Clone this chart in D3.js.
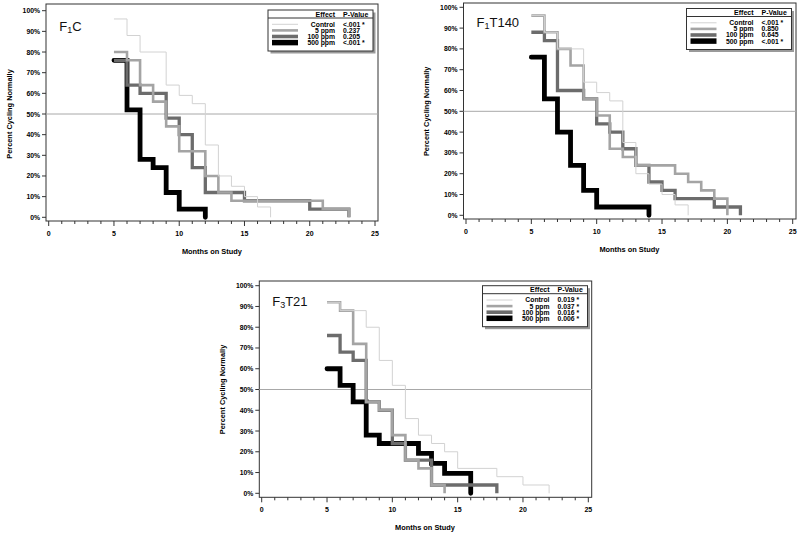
<!DOCTYPE html>
<html><head><meta charset="utf-8">
<script src="https://cdn.jsdelivr.net/npm/d3@7"></script>
<style>body{margin:0;background:#fff}svg{display:block}text{font-family:"Liberation Sans",Arial,sans-serif}</style>
</head><body><svg id="c" width="800" height="534"></svg>
<script>
// ---------- data ----------
const groups = ["Control","5 ppm","100 ppm","500 ppm"];
const xTicks = [0,5,10,15,20,25];
const yTicks = [0,10,20,30,40,50,60,70,80,90,100];

// F1C
const f1c_control_t = [5,6,7,9,10,11,12,13,14,15,16,17];
const f1c_control_s = [96,88,80,64,59,55,35,20,15,10,5,0];
const f1c_5_t = [5,6,7,8,9,10,12,13,14,21,23];
const f1c_5_s = [80,76,64,56,44,32,20,12,8,4,0];
const f1c_100_t = [5,6,7,9,10,11,12,15,20,23];
const f1c_100_s = [76,64,60,48,40,24,12,8,4,0];
const f1c_500_t = [5,6,7,8,9,10,12];
const f1c_500_s = [76,52,28,24,12,4,0];
const f1c_p = ["<.001 *","0.237","0.205","<.001 *"];

// F1T140
const f1t_control_t = [5,6,7,9,10,11,12,13,14,15,16,17];
const f1t_control_s = [96,88,80,64,59,55,35,20,15,10,5,0];
const f1t_5_t = [5,6,7,8,9,10,11,12,13,16,17,18,19,20];
const f1t_5_s = [96,88,80,72,56,48,32,28,24,20,16,12,8,0];
const f1t_100_t = [5,6,7,9,10,11,12,13,14,15,16,19,21];
const f1t_100_s = [88,84,60,56,44,40,32,24,16,12,8,4,0];
const f1t_500_t = [5,6,7,8,9,10,14];
const f1t_500_s = [76,56,40,24,12,4,0];
const f1t_p = ["<.001 *","0.850","0.645","<.001 *"];

// F3T21
const f3t_control_t = [5,6,8,9,10,11,12,13,14,15,18,20,22];
const f3t_control_s = [92,88,80,64,52,36,28,24,20,12,8,4,0];
const f3t_5_t = [5,6,7,8,9,10,11,12,13,14];
const f3t_5_s = [92,88,72,44,40,28,16,12,4,0];
const f3t_100_t = [5,6,7,8,9,10,11,13,18];
const f3t_100_s = [76,68,64,44,40,24,16,4,0];
const f3t_500_t = [5,6,7,8,9,12,13,14,16];
const f3t_500_s = [60,52,44,28,24,19.2,14.4,9.6,0];
const f3t_p = ["0.019 *","0.037 *","0.016 *","0.006 *"];

// ---------- styles ----------
const colors = ["#d2d2d2","#a4a4a4","#6c6c6c","#000000"];
const widths = [1,2.6,3.3,4.8];
const legWidths = [1,2.6,3.6,5.5];

const panels = [
  {title:["F","1","C"], frame:[46,4,378,221], xr:[48.7,375], yr:[217.3,10.7], leg:[268,10],
   t:[f1c_control_t,f1c_5_t,f1c_100_t,f1c_500_t], s:[f1c_control_s,f1c_5_s,f1c_100_s,f1c_500_s], p:f1c_p},
  {title:["F","1","T140"], frame:[463.5,3,796,219], xr:[466,792.7], yr:[215.3,7.3], leg:[686.5,8.5],
   t:[f1t_control_t,f1t_5_t,f1t_100_t,f1t_500_t], s:[f1t_control_s,f1t_5_s,f1t_100_s,f1t_500_s], p:f1t_p},
  {title:["F","3","T21"], frame:[259.3,281,591.7,497.3], xr:[261.7,588.3], yr:[493.3,285.7], leg:[482.5,285.7],
   t:[f3t_control_t,f3t_5_t,f3t_100_t,f3t_500_t], s:[f3t_control_s,f3t_5_s,f3t_100_s,f3t_500_s], p:f3t_p}
];

const svg = d3.select("#c");

panels.forEach(P => {
  const [fx0,fy0,fx1,fy1] = P.frame;
  const x = d3.scaleLinear().domain([0,25]).range(P.xr);
  const y = d3.scaleLinear().domain([0,100]).range(P.yr);
  const g = svg.append("g");

  // frame
  g.append("rect").attr("x",fx0).attr("y",fy0).attr("width",fx1-fx0).attr("height",fy1-fy0)
    .attr("fill","none").attr("stroke","#333").attr("stroke-width",1);

  // x axis ticks (major + minor)
  const xa = g.append("g").attr("transform",`translate(0,${fy1})`);
  xa.selectAll("line.mi").data(d3.range(0,26)).join("line")
    .attr("x1",d=>x(d)).attr("x2",d=>x(d)).attr("y1",0).attr("y2",d=>d%5===0?5:3)
    .attr("stroke","#333").attr("stroke-width",1);
  xa.selectAll("text").data(xTicks).join("text")
    .attr("x",d=>x(d)).attr("y",15).attr("text-anchor","middle")
    .attr("font-size",7).attr("font-weight","bold").text(d=>d);

  // y axis
  const ya = g.append("g").attr("transform",`translate(${fx0},0)`);
  ya.selectAll("line").data(yTicks).join("line")
    .attr("x1",-4).attr("x2",0).attr("y1",d=>y(d)).attr("y2",d=>y(d))
    .attr("stroke","#333").attr("stroke-width",1);
  ya.selectAll("text").data(yTicks).join("text")
    .attr("x",-6).attr("y",d=>y(d)+2.5).attr("text-anchor","end")
    .attr("font-size",6.8).attr("font-weight","bold").text(d=>d+"%");

  // titles
  g.append("text").attr("x",(P.xr[0]+P.xr[1])/2).attr("y",fy1+32.5).attr("text-anchor","middle")
    .attr("font-size",7.4).attr("font-weight","bold").text("Months on Study");
  g.append("text").attr("transform",`translate(${fx0-34.5},${(P.yr[0]+P.yr[1])/2}) rotate(-90)`)
    .attr("text-anchor","middle").attr("font-size",7.4).attr("font-weight","bold").text("Percent Cycling Normally");

  // 50% reference line
  g.append("line").attr("x1",fx0).attr("x2",fx1).attr("y1",y(50)).attr("y2",y(50))
    .attr("stroke","#a8a8a8").attr("stroke-width",1);

  // curves: draw 500 first, then 100, 5, control on top
  const line = d3.line().x(d=>x(d[0])).y(d=>y(d[1])).curve(d3.curveStepAfter);
  [3,2,1,0].forEach(i => {
    const pts = P.t[i].map((t,k)=>[t,P.s[i][k]]);
    g.append("path").attr("d",line(pts)).attr("fill","none")
      .attr("stroke",colors[i]).attr("stroke-width",widths[i])
      .attr("stroke-linecap",i===3?"round":"butt").attr("stroke-linejoin","miter");
  });

  // panel label
  const tl = g.append("text").attr("x",P.xr[0]+10.5).attr("y",P.yr[1]+20).attr("font-size",13).attr("fill","#111");
  tl.append("tspan").text(P.title[0]);
  tl.append("tspan").attr("font-size",9).attr("dy",2).text(P.title[1]);
  tl.append("tspan").attr("dy",-2).text(P.title[2]);

  // legend
  const [L,T] = P.leg, LW = 105, LH = 41;
  const lg = g.append("g");
  lg.append("rect").attr("x",L+2.5).attr("y",T+2.5).attr("width",LW).attr("height",LH).attr("fill","#9a9a9a");
  lg.append("rect").attr("x",L).attr("y",T).attr("width",LW).attr("height",LH)
    .attr("fill","#fff").attr("stroke","#333").attr("stroke-width",1);
  lg.append("line").attr("x1",L).attr("x2",L+LW).attr("y1",T+8).attr("y2",T+8).attr("stroke","#333");
  lg.append("text").attr("x",L+67).attr("y",T+6.6).attr("text-anchor","end")
    .attr("font-size",7).attr("font-weight","bold").text("Effect");
  lg.append("text").attr("x",L+75).attr("y",T+6.6)
    .attr("font-size",7).attr("font-weight","bold").text("P-Value");
  groups.forEach((gname,i) => {
    const ry = T+14.3+i*6.1;
    lg.append("line").attr("x1",L+4).attr("x2",L+30).attr("y1",ry).attr("y2",ry)
      .attr("stroke",colors[i]).attr("stroke-width",legWidths[i]);
    lg.append("text").attr("x",L+67).attr("y",ry+2.4).attr("text-anchor","end")
      .attr("font-size",6.8).attr("font-weight","bold").text(gname);
    lg.append("text").attr("x",L+75).attr("y",ry+2.4)
      .attr("font-size",6.8).attr("font-weight","bold").text(P.p[i]);
  });
});
</script></body></html>
